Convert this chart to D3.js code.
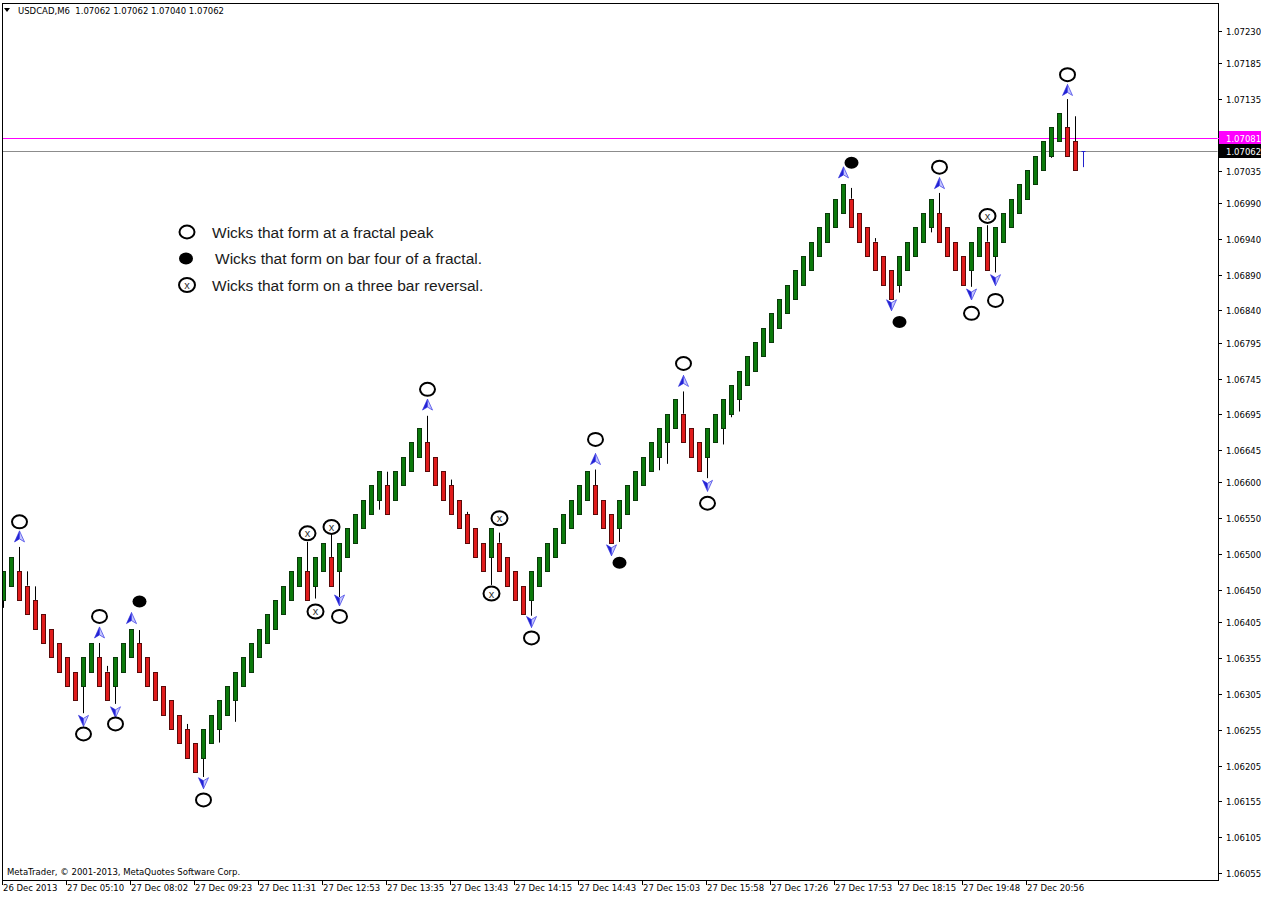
<!DOCTYPE html>
<html><head><meta charset="utf-8">
<script src="https://cdn.jsdelivr.net/npm/d3@7/dist/d3.min.js"></script>
<style>body{margin:0;background:#fff;}svg{display:block;}</style>
</head><body>
<svg id="chart" width="1261" height="898"></svg>
<script>
// ---------------- DATA ----------------
const symbolLabel = "USDCAD,M6";
const headerOHLC = ["1.07062", "1.07062", "1.07040", "1.07062"];

const opens = [
1.06436,1.06456,1.06476,1.06456,1.06436,1.06416,1.06396,1.06376,1.06356,1.06336,
1.06316,1.06336,1.06356,1.06336,1.06316,1.06336,1.06356,1.06376,1.06356,1.06336,
1.06316,1.06296,1.06276,1.06256,1.06236,1.06216,1.06236,1.06256,1.06276,1.06296,
1.06316,1.06336,1.06356,1.06376,1.06396,1.06416,1.06436,1.06456,1.06476,1.06456,
1.06476,1.06496,1.06476,1.06496,1.06516,1.06536,1.06556,1.06576,1.06596,1.06576,
1.06596,1.06616,1.06636,1.06656,1.06636,1.06616,1.06596,1.06576,1.06556,1.06536,
1.06516,1.06496,1.06516,1.06496,1.06476,1.06456,1.06436,1.06456,1.06476,1.06496,
1.06516,1.06536,1.06556,1.06576,1.06596,1.06576,1.06556,1.06536,1.06556,1.06576,
1.06596,1.06616,1.06636,1.06656,1.06676,1.06696,1.06676,1.06656,1.06636,1.06656,
1.06676,1.06696,1.06716,1.06736,1.06756,1.06776,1.06796,1.06816,1.06836,1.06856,
1.06876,1.06896,1.06916,1.06936,1.06956,1.06976,1.06996,1.06976,1.06956,1.06936,
1.06916,1.06896,1.06876,1.06896,1.06916,1.06936,1.06956,1.06976,1.06956,1.06936,
1.06916,1.06896,1.06916,1.06936,1.06916,1.06936,1.06956,1.06976,1.06996,1.07016,
1.07036,1.07056,1.07076,1.07096,1.07076,1.07062];
const closes = [
1.06476,1.06496,1.06436,1.06416,1.06396,1.06376,1.06356,1.06336,1.06316,1.06296,
1.06356,1.06376,1.06316,1.06296,1.06356,1.06376,1.06396,1.06336,1.06316,1.06296,
1.06276,1.06256,1.06236,1.06216,1.06196,1.06256,1.06276,1.06296,1.06316,1.06336,
1.06356,1.06376,1.06396,1.06416,1.06436,1.06456,1.06476,1.06496,1.06436,1.06496,
1.06516,1.06456,1.06516,1.06536,1.06556,1.06576,1.06596,1.06616,1.06556,1.06616,
1.06636,1.06656,1.06676,1.06616,1.06596,1.06576,1.06556,1.06536,1.06516,1.06496,
1.06476,1.06536,1.06476,1.06456,1.06436,1.06416,1.06476,1.06496,1.06516,1.06536,
1.06556,1.06576,1.06596,1.06616,1.06556,1.06536,1.06516,1.06576,1.06596,1.06616,
1.06636,1.06656,1.06676,1.06696,1.06716,1.06656,1.06636,1.06616,1.06676,1.06696,
1.06716,1.06736,1.06756,1.06776,1.06796,1.06816,1.06836,1.06856,1.06876,1.06896,
1.06916,1.06936,1.06956,1.06976,1.06996,1.07016,1.06956,1.06936,1.06916,1.06896,
1.06876,1.06856,1.06916,1.06936,1.06956,1.06976,1.06996,1.06936,1.06916,1.06896,
1.06876,1.06936,1.06956,1.06896,1.06956,1.06976,1.06996,1.07016,1.07036,1.07056,
1.07076,1.07096,1.07116,1.07056,1.07036,1.07062];

// wicks that extend beyond the body: [barIndex, price]
const wickHighs = [[2,1.06510],[3,1.06476],[4,1.06455],[12,1.06376],[13,1.06344],[17,1.06394],
  [23,1.06263],[38,1.06517],[41,1.06529],[48,1.06615],[53,1.06693],[56,1.06604],[58,1.06559],
  [62,1.06530],[74,1.06618],[85,1.06727],[106,1.07011],[109,1.06941],[117,1.07004],
  [123,1.06959],[133,1.07135],[134,1.07111]];
const wickLows = [[0,1.06425],[10,1.06278],[14,1.06291],[25,1.06189],[27,1.06237],[29,1.06266],
  [39,1.06438],[42,1.06440],[47,1.06562],[61,1.06457],[66,1.06414],[77,1.06517],[82,1.06617],
  [83,1.06626],[88,1.06606],[90,1.06653],[91,1.06691],[92,1.06699],[112,1.06865],[116,1.06949],
  [121,1.06873],[124,1.06893],[131,1.07053],[135,1.07040]];

// annotation markers: [barIndex, price]
const peakCircles = [[2,1.06545],[10,1.06249],[12,1.06413],[14,1.06263],[25,1.06157],[42,1.06413],
  [53,1.06730],[66,1.06383],[74,1.06660],[85,1.06766],[88,1.06571],[117,1.07040],[121,1.06836],
  [124,1.06854],[133,1.07169]];
const barFourDots = [[17,1.06434],[77,1.06488],[106,1.07046],[112,1.06824]];
const reversalCircles = [[38,1.06529],[39,1.06420],[41,1.06538],[61,1.06445],[62,1.06550],[123,1.06972]];
const upArrows = [[2,1.06524],[12,1.06390],[16,1.06410],[53,1.06708],[74,1.06632],[85,1.06741],
  [105,1.07032],[117,1.07017],[133,1.07147]];
const downArrows = [[10,1.06268],[14,1.06280],[25,1.06181],[42,1.06436],[66,1.06406],[76,1.06506],
  [88,1.06596],[111,1.06848],[121,1.06863],[124,1.06883]];

// price-axis labels (the 1.07085 label sits under the magenta price box, only its tick shows)
const priceTicks = ["1.07230","1.07185","1.07135","1.07035","1.06990","1.06940","1.06890",
  "1.06840","1.06795","1.06745","1.06695","1.06645","1.06600","1.06550","1.06500","1.06450",
  "1.06405","1.06355","1.06305","1.06255","1.06205","1.06155","1.06105","1.06055"];
const hiddenTicks = ["1.07085"];
const timeLabels = ["26 Dec 2013","27 Dec 05:10","27 Dec 08:02","27 Dec 09:23","27 Dec 11:31",
  "27 Dec 12:53","27 Dec 13:35","27 Dec 13:43","27 Dec 14:15","27 Dec 14:43","27 Dec 15:03",
  "27 Dec 15:58","27 Dec 17:26","27 Dec 17:53","27 Dec 18:15","27 Dec 19:48","27 Dec 20:56"];
const timeLabelBars = [0,8,16,24,32,40,48,56,64,72,80,88,96,104,112,120,128];

const hLinePrice = 1.07081;
const bidPrice = 1.07062;

const legendItems = [
  {type:"peak", text:"Wicks that form at a fractal peak"},
  {type:"dot", text:"Wicks that form on bar four of a fractal."},
  {type:"x", text:"Wicks that form on a three bar reversal."}
];
const copyright = "MetaTrader, \u00a9 2001-2013, MetaQuotes Software Corp.";

// ---------------- LAYOUT ----------------
const W = 1261, H = 898;
const plotL = 2, plotR = 1218, plotT = 3, plotB = 880;
const svg = d3.select("#chart");
const x = d3.scaleLinear().domain([0, 135]).range([3, 1083]);
const y = d3.scaleLinear().domain([1.06055, 1.07230]).range([873, 31]);
const AXFONT = "'DejaVu Sans', Verdana, sans-serif";

svg.append("rect").attr("width", W).attr("height", H).attr("fill", "#fff");
svg.append("defs").append("clipPath").attr("id", "plotclip")
  .append("rect").attr("x", plotL + 0.5).attr("y", plotT + 0.5)
  .attr("width", plotR - plotL - 1).attr("height", plotB - plotT - 1);

const plot = svg.append("g").attr("clip-path", "url(#plotclip)");

// horizontal lines
plot.append("line").attr("x1", plotL).attr("x2", plotR)
  .attr("y1", Math.round(y(hLinePrice)) + 0.5).attr("y2", Math.round(y(hLinePrice)) + 0.5)
  .attr("stroke", "#ff00ff").attr("stroke-width", 1);
plot.append("line").attr("x1", plotL).attr("x2", plotR)
  .attr("y1", Math.round(y(bidPrice)) + 0.5).attr("y2", Math.round(y(bidPrice)) + 0.5)
  .attr("stroke", "#8c8c8c").attr("stroke-width", 1);

// bars
const bars = opens.map((o, i) => {
  const c = closes[i];
  const wh = wickHighs.find(d => d[0] === i);
  const wl = wickLows.find(d => d[0] === i);
  return {i, o, c, h: wh ? wh[1] : Math.max(o, c), l: wl ? wl[1] : Math.min(o, c)};
});
const gBars = plot.append("g");
bars.forEach(b => {
  const cx = Math.round(x(b.i));
  const top = Math.max(b.o, b.c), bot = Math.min(b.o, b.c);
  if (b.h > top) gBars.append("line").attr("x1", cx + 0.5).attr("x2", cx + 0.5)
      .attr("y1", y(b.h)).attr("y2", y(top)).attr("stroke", "#000").attr("stroke-width", 1);
  if (b.l < bot) gBars.append("line").attr("x1", cx + 0.5).attr("x2", cx + 0.5)
      .attr("y1", y(bot)).attr("y2", y(b.l)).attr("stroke", b.o === b.c ? "#2222cc" : "#000").attr("stroke-width", 1);
  if (b.o === b.c) {
    gBars.append("line").attr("x1", cx - 1.5).attr("x2", cx + 2.5)
      .attr("y1", Math.round(y(b.o)) + 0.5).attr("y2", Math.round(y(b.o)) + 0.5)
      .attr("stroke", "#2222cc");
    return;
  }
  gBars.append("rect")
    .attr("x", cx - 1.5).attr("width", 4)
    .attr("y", Math.round(y(top)) + 0.5).attr("height", Math.round(y(bot)) - Math.round(y(top)))
    .attr("fill", b.c > b.o ? "#0b7a0b" : "#e01b1b")
    .attr("stroke", b.c > b.o ? "#0a3a0a" : "#5a0a0a").attr("stroke-width", 1);
});

// markers
function arrow(g, cx, cy, up) {
  const s = up ? 1 : -1;
  const tip = [cx, cy - 6 * s], lw = [cx - 5, cy + 5 * s], rw = [cx + 5, cy + 5 * s], n = [cx, cy + 2 * s];
  g.append("path").attr("d", `M${tip}L${lw}L${n}Z`).attr("fill", "#2323d6").attr("stroke", "#2323d6").attr("stroke-width", 0.6);
  g.append("path").attr("d", `M${tip}L${rw}L${n}Z`).attr("fill", "#c4c6ff").attr("stroke", "#4a4ae6").attr("stroke-width", 0.8);
}
const gMark = plot.append("g");
upArrows.forEach(d => arrow(gMark, x(d[0]) + 0.5, y(d[1]), true));
downArrows.forEach(d => arrow(gMark, x(d[0]) + 0.5, y(d[1]), false));

function peak(g, cx, cy) {
  g.append("ellipse").attr("cx", cx).attr("cy", cy).attr("rx", 7.5).attr("ry", 6.5)
    .attr("fill", "#fff").attr("stroke", "#000").attr("stroke-width", 2);
}
function dot(g, cx, cy) {
  g.append("ellipse").attr("cx", cx).attr("cy", cy).attr("rx", 7).attr("ry", 6).attr("fill", "#000");
}
function xcirc(g, cx, cy) {
  g.append("ellipse").attr("cx", cx).attr("cy", cy).attr("rx", 8).attr("ry", 7)
    .attr("fill", "#fff").attr("stroke", "#000").attr("stroke-width", 2);
  g.append("text").attr("x", cx).attr("y", cy + 4).attr("text-anchor", "middle")
    .attr("font-family", "'Liberation Sans', Arial, sans-serif").attr("font-size", 11).attr("fill", "#333").text("x");
}
peakCircles.forEach(d => peak(gMark, x(d[0]) + 0.5, y(d[1])));
barFourDots.forEach(d => dot(gMark, x(d[0]) + 0.5, y(d[1])));
reversalCircles.forEach(d => xcirc(gMark, x(d[0]) + 0.5, y(d[1])));

// legend
const gLeg = svg.append("g");
legendItems.forEach((it, k) => {
  const cy = 232 + k * 26.5;
  if (it.type === "peak") peak(gLeg, 187, cy);
  else if (it.type === "dot") dot(gLeg, 186, cy);
  else xcirc(gLeg, 187, cy);
  gLeg.append("text").attr("x", it.type === "dot" ? 215 : 212).attr("y", cy + 5.5)
    .attr("font-family", "'Liberation Sans', Arial, sans-serif").attr("font-size", 15.5)
    .attr("fill", "#1a1a1a").text(it.text);
});

// frame
svg.append("rect").attr("x", plotL + 0.5).attr("y", plotT + 0.5)
  .attr("width", plotR - plotL).attr("height", plotB - plotT)
  .attr("fill", "none").attr("stroke", "#000").attr("stroke-width", 1);

// header
svg.append("path").attr("d", "M4,8L10,8L7,12Z").attr("fill", "#000");
svg.append("text").attr("x", 18).attr("y", 14).attr("font-family", AXFONT).attr("font-size", 8.5)
  .attr("fill", "#000").attr("xml:space", "preserve")
  .text(symbolLabel + "  " + headerOHLC.join(" "));

// copyright
svg.append("text").attr("x", 7).attr("y", 875).attr("font-family", AXFONT).attr("font-size", 8.5)
  .attr("fill", "#000").text(copyright);

// price axis
const gY = svg.append("g");
hiddenTicks.forEach(t => {
  const py = Math.round(y(+t)) + 0.5;
  gY.append("line").attr("x1", plotR).attr("x2", plotR + 4).attr("y1", py).attr("y2", py).attr("stroke", "#000");
});
priceTicks.forEach(t => {
  const py = Math.round(y(+t)) + 0.5;
  gY.append("line").attr("x1", plotR).attr("x2", plotR + 4).attr("y1", py).attr("y2", py).attr("stroke", "#000");
  gY.append("text").attr("x", 1226).attr("y", py + 3).attr("font-family", AXFONT)
    .attr("font-size", 8.5).attr("fill", "#000").text(t);
});
// price boxes
[[hLinePrice, "#ff00ff"], [bidPrice, "#000"]].forEach(([p, col]) => {
  const py = Math.round(y(p));
  gY.append("rect").attr("x", plotR + 1).attr("y", py - 7).attr("width", W - plotR - 1).attr("height", 14).attr("fill", col);
  gY.append("line").attr("x1", plotR).attr("x2", plotR + 4).attr("y1", py + 0.5).attr("y2", py + 0.5).attr("stroke", col);
  gY.append("text").attr("x", 1226).attr("y", py + 3.5).attr("font-family", AXFONT)
    .attr("font-size", 8.5).attr("fill", "#fff").text(p.toFixed(5));
});

// time axis
const gX = svg.append("g");
timeLabels.forEach((t, k) => {
  const tx = Math.round(x(timeLabelBars[k])) - 0.5;
  gX.append("line").attr("x1", tx).attr("x2", tx).attr("y1", plotB).attr("y2", plotB + 5).attr("stroke", "#000");
  gX.append("text").attr("x", tx + 0.5).attr("y", 891).attr("font-family", AXFONT)
    .attr("font-size", 8.5).attr("fill", "#000").text(t);
});
</script>
</body></html>
